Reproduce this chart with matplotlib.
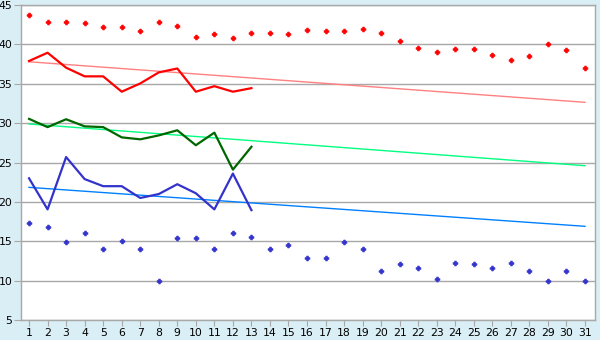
import numpy as np
import matplotlib
matplotlib.use("Agg")
import matplotlib.pyplot as plt

days = list(range(1, 32))
days_short = list(range(1, 14))

# daily maxima / minima (points)
red_points = [43.8, 42.8, 42.8, 42.7, 42.2, 42.2, 41.7, 42.8, 42.4, 41.0,
              41.3, 40.8, 41.5, 41.4, 41.3, 41.8, 41.7, 41.7, 42.0, 41.4,
              40.4, 39.6, 39.0, 39.4, 39.4, 38.6, 38.0, 38.5, 40.0, 39.25, 37.0]
blue_points = [17.3, 16.8, 14.9, 16.0, 14.0, 15.0, 14.0, 10.0, 15.4, 15.4,
               14.0, 16.0, 15.5, 14.0, 14.5, 12.85, 12.85, 14.9, 14.0, 11.2,
               12.1, 11.6, 10.2, 12.2, 12.1, 11.6, 12.2, 11.2, 10.0, 11.2, 10.0]

# current month lines
red_line = [37.9, 38.95, 37.05, 35.95, 35.95, 34.0, 35.05, 36.45, 36.95, 34.0,
            34.7, 34.0, 34.45]
green_line = [30.55, 29.5, 30.5, 29.6, 29.5, 28.2, 27.95, 28.45, 29.1, 27.2,
              28.8, 24.1, 27.0]
blue_line = [23.0, 19.05, 25.7, 22.9, 22.0, 22.0, 20.5, 21.0, 22.25, 21.1,
             19.05, 23.6, 18.95]

# normal trend lines (endpoints)
trend_days = [1, 31]
red_trend = [37.8, 32.65]
green_trend = [29.9, 24.6]
blue_trend = [21.85, 16.9]

bg = "#D9EEF5"
grid_c = "#A8A8A8"

fig = plt.figure(figsize=(6, 3.4), dpi=100, facecolor=bg)
ax = fig.add_axes([0.0345, 0.0588, 0.9575, 0.9262])
ax.set_facecolor("white")

for y in range(5, 50, 5):
    ax.axhline(y, color=grid_c, lw=1.0, zorder=0)

ax.plot(trend_days, red_trend, color="#FF8080", lw=1.0, zorder=2)
ax.plot(trend_days, green_trend, color="#00FF80", lw=1.0, zorder=2)
ax.plot(trend_days, blue_trend, color="#0080FF", lw=1.0, zorder=2)

ax.plot(days_short, red_line, color="#FF0000", lw=1.6, zorder=3)
ax.plot(days_short, green_line, color="#006600", lw=1.6, zorder=3)
ax.plot(days_short, blue_line, color="#3333CC", lw=1.6, zorder=3)

ax.plot(days, red_points, ls="none", marker="P", ms=3.4, color="#FF0000",
        markeredgewidth=0.6, zorder=4)
ax.plot(days, blue_points, ls="none", marker="P", ms=3.4, color="#3333CC",
        markeredgewidth=0.6, zorder=4)

ax.set_xlim(0.55, 31.55)
ax.set_ylim(5, 45)
ax.set_xticks(days)
ax.set_yticks(range(5, 50, 5))
ax.tick_params(axis="x", length=4, color=grid_c, labelsize=7.8, pad=1.5)
ax.tick_params(axis="y", length=5, color=grid_c, labelsize=7.8, pad=1)
for s in ax.spines.values():
    s.set_color(grid_c)
    s.set_linewidth(1.0)

fig.savefig("out.png", dpi=100, facecolor=bg)
